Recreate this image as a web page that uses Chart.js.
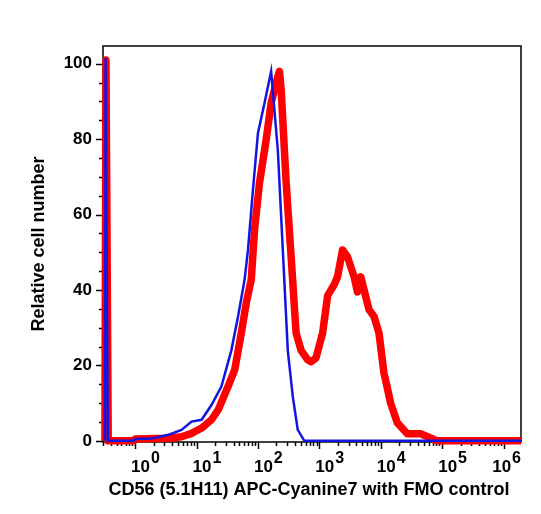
<!DOCTYPE html>
<html>
<head>
<meta charset="utf-8">
<script src="https://cdn.jsdelivr.net/npm/chart.js@4/dist/chart.umd.min.js"></script>
<style>
  html, body { margin: 0; padding: 0; background: #fff; }
  canvas { display: block; }
</style>
</head>
<body>
<canvas id="histo" width="541" height="514"></canvas>
<script>
// FMO control (blue, thin)
const blueX = [0.323, 0.33, 0.36, 0.95, 1.0, 1.86, 3.47, 5.7, 8.3, 12.1, 17.5, 25.4, 36.9, 47.4, 60.6, 68.9, 83, 100, 128, 164, 211, 254, 306, 369, 445, 569, 1.92e6];
const blueY = [0, 101.5, 0, 0, 0.5, 0.6, 1.6, 2.9, 5.1, 5.6, 9.5, 14.4, 24, 33, 42.7, 50.7, 66.6, 81.6, 89.6, 98, 77, 50.7, 24, 11.8, 2.9, 0, 0];

// CD56 stained (red, thick)
const redX = [0.323, 0.335, 0.365, 0.95, 1.0, 3.5, 5.7, 8.3, 12.1, 17.5, 22.5, 32.6, 41.8, 53.6, 64.6, 77.8, 88.1, 106, 136, 164, 211, 224, 239, 288, 347, 418, 504, 646, 731, 881, 1130, 1362, 1743, 1977, 2386, 2875, 3680, 4176, 4723, 5346, 6440, 7760, 9350, 11270, 12800, 14460, 18570, 26990, 44360, 64390, 82630, 1.92e6];
const redY = [0, 101, 0, 0, 0.5, 0.7, 1.1, 2.0, 3.4, 5.6, 8.2, 14.4, 18.8, 28.6, 36.6, 42.7, 56, 68.4, 79.8, 89.6, 96.6, 98, 93, 68.4, 48.8, 28.6, 24, 21.5, 21, 22, 28.6, 38.5, 41.4, 43.5, 50.6, 48.8, 43.5, 39.5, 43.5, 40, 34.8, 33, 28.6, 18, 14, 10, 4.8, 1.9, 1.9, 0.8, 0, 0];

const yTicks = [0, 20, 40, 60, 80, 100];
const xDecades = [0, 1, 2, 3, 4, 5, 6];
const xTitle = 'CD56 (5.1H11) APC-Cyanine7 with FMO control';
const yTitle = 'Relative cell number';

function toPoints(xs, ys) {
    return xs.map((x, i) => ({ x: x, y: ys[i] }));
}

// frame, tick marks, x labels (10^n) and axis titles
const decorPlugin = {
    id: 'decor',
    beforeDatasetsDraw(chart) {
        const ctx = chart.ctx;
        const a = chart.chartArea;
        const xs = chart.scales.x, ys = chart.scales.y;
        ctx.save();
        ctx.strokeStyle = '#000';
        ctx.lineWidth = 1.5;
        ctx.strokeRect(a.left, a.top, a.right - a.left, a.bottom - a.top);

        // y ticks: major every 20, minor every 5
        for (let v = 0; v <= 100; v += 5) {
            const py = Math.round(ys.getPixelForValue(v)) + 0.5;
            const len = (v % 20 === 0) ? 7 : 4;
            ctx.beginPath();
            ctx.moveTo(a.left - len, py);
            ctx.lineTo(a.left, py);
            ctx.stroke();
        }

        // x ticks: decades + 2..9 minors
        for (let e = -1; e <= 6; e++) {
            for (let m = 1; m <= 9; m++) {
                const v = m * Math.pow(10, e);
                if (v < xs.min || v > xs.max) continue;
                const px = Math.round(xs.getPixelForValue(v)) + 0.5;
                const len = (m === 1) ? 7 : 4;
                ctx.beginPath();
                ctx.moveTo(px, a.bottom);
                ctx.lineTo(px, a.bottom + len);
                ctx.stroke();
            }
        }
        ctx.restore();
    },
    afterDraw(chart) {
        const ctx = chart.ctx;
        const a = chart.chartArea;
        const xs = chart.scales.x;
        ctx.save();
        ctx.fillStyle = '#000';
        ctx.textAlign = 'left';
        ctx.textBaseline = 'alphabetic';
        xDecades.forEach(e => {
            const px = xs.getPixelForValue(Math.pow(10, e));
            ctx.font = 'bold 17px "Liberation Sans", Arial, sans-serif';
            const wBase = ctx.measureText('10').width;
            ctx.font = 'bold 16px "Liberation Sans", Arial, sans-serif';
            const wExp = ctx.measureText(String(e)).width;
            let x0 = px - 4;
            if (x0 + wBase + 1 + wExp > a.right) x0 = a.right - wBase - 1 - wExp;
            ctx.font = 'bold 17px "Liberation Sans", Arial, sans-serif';
            ctx.fillText('10', x0, 472);
            ctx.font = 'bold 16px "Liberation Sans", Arial, sans-serif';
            ctx.fillText(String(e), x0 + wBase + 1, 463);
        });

        ctx.font = 'bold 18px "Liberation Sans", Arial, sans-serif';
        ctx.textAlign = 'center';
        ctx.fillText(xTitle, 309, 495);

        ctx.translate(39, (a.top + a.bottom) / 2);
        ctx.rotate(-Math.PI / 2);
        ctx.textBaseline = 'middle';
        ctx.font = 'bold 18px "Liberation Sans", Arial, sans-serif';
        ctx.fillText(yTitle, 0, 0);
        ctx.restore();
    }
};

const ctx = document.getElementById('histo').getContext('2d');
const chart = new Chart(ctx, {
    type: 'line',
    data: {
        datasets: [{
            label: 'FMO control',
            data: toPoints(blueX, blueY),
            borderColor: 'rgb(20, 20, 225)',
            borderWidth: 2.5,
            pointRadius: 0,
            tension: 0,
            clip: 6
        }, {
            label: 'CD56',
            data: toPoints(redX, redY),
            borderColor: 'rgb(255, 0, 0)',
            borderWidth: 7.5,
            borderJoinStyle: 'round',
            pointRadius: 0,
            tension: 0,
            clip: 6
        }]
    },
    options: {
        responsive: false,
        animation: false,
        layout: { padding: { top: 46, right: 20, left: 0, bottom: 0 } },
        plugins: {
            legend: { display: false },
            tooltip: { enabled: false }
        },
        scales: {
            x: {
                type: 'logarithmic',
                min: 0.323,
                max: 1.92e6,
                grid: { display: false, drawTicks: false },
                border: { display: false },
                ticks: { display: false },
                afterFit: function (scale) { scale.height = 72; }
            },
            y: {
                type: 'linear',
                min: -0.3,
                max: 104.7,
                afterBuildTicks: function (scale) {
                    scale.ticks = yTicks.map(v => ({ value: v }));
                },
                grid: { display: false, drawTicks: false },
                border: { display: false },
                ticks: {
                    padding: 11,
                    color: '#000',
                    font: { family: '"Liberation Sans", Arial, sans-serif', size: 17, weight: 'bold' }
                },
                afterFit: function (scale) { scale.width = 103; }
            }
        }
    },
    plugins: [decorPlugin]
});
</script>
</body>
</html>
